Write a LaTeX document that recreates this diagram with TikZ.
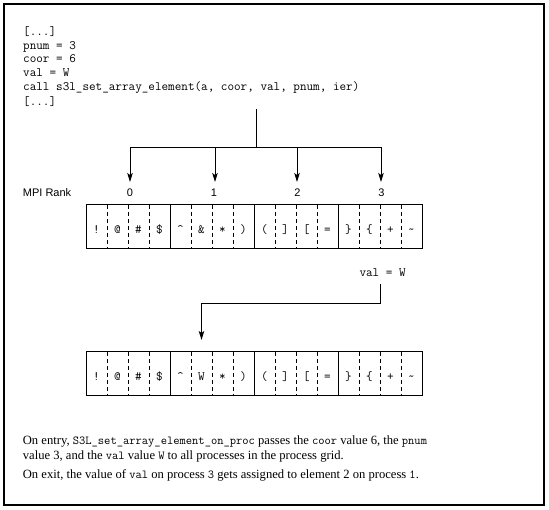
\documentclass[tikz,border=0pt]{standalone}
\usepackage{fontspec}
\setmainfont{Liberation Serif}
\setsansfont{Liberation Sans}
\usetikzlibrary{arrows.meta}
\newcommand\bodytt[1]{{\fontsize{12.2}{13}\selectfont\ttfamily #1}}
\begin{document}
\begin{tikzpicture}[x=1pt,y=-1pt,
  frame/.style={line width=1.2pt},
  code/.style={anchor=base west, inner sep=0pt, font=\fontsize{12.8}{14}\selectfont\ttfamily},
  body/.style={anchor=base west, inner sep=0pt, font=\fontsize{12.6}{13}\selectfont\rmfamily},
  rank/.style={anchor=base, inner sep=0pt, font=\fontsize{11}{13}\selectfont\sffamily},
  groupbox/.style={draw, line width=1pt, inner sep=0pt, outer sep=0pt, minimum width=84pt, minimum height=44pt},
  sep/.style={line width=0.8pt, dash pattern=on 4pt off 3pt},
  cell/.style={anchor=base, inner sep=0pt, font=\fontsize{12.8}{14}\selectfont\ttfamily},
  wire/.style={line width=1pt},
  arr/.style={line width=1pt, -{Stealth[length=9pt,width=5.5pt,inset=2pt]}},
]
\useasboundingbox (0,0) rectangle (549,510);
\draw[frame] (4,4) rectangle (544,505);

% code block
\node[code] (l1) at (23,36) {[...]};
\node[code] (l2) at (23,49.5) {pnum = 3};
\node[code] (l3) at (23,63) {coor = 6};
\node[code] (l4) at (23,77) {val = W};
\node[code] (l5) at (23,91) {call s3l\_set\_array\_element(a, coor, val, pnum, ier)};
\node[code] (l6) at (23,105.5) {[...]};

% broadcast connector
\coordinate (src) at (256,109);
\coordinate (bar) at (256,147.3);
\coordinate (b0) at (130,147.3);
\coordinate (b1) at (215,147.3);
\coordinate (b2) at (297,147.3);
\coordinate (b3) at (381,147.3);
\coordinate (t0) at (130,182);
\coordinate (t1) at (215,182);
\coordinate (t2) at (297,182);
\coordinate (t3) at (381,182);
\draw[wire] (src) -- (bar);
\draw[wire] (b0) -- (b3);
\draw[arr] (b0) -- (t0);
\draw[arr] (b1) -- (t1);
\draw[arr] (b2) -- (t2);
\draw[arr] (b3) -- (t3);

% rank labels
\node[anchor=base west, inner sep=0pt, font=\fontsize{11}{13}\selectfont\sffamily] (mpi) at (22.7,197) {MPI Rank};
\node[rank] (r0) at (130,197) {0};
\node[rank] (r1) at (214,197) {1};
\node[rank] (r2) at (297.5,197) {2};
\node[rank] (r3) at (381.5,197) {3};

% first array
\foreach \g in {0,1,2,3} {
  \node[groupbox] (g\g) at (128+84*\g,227) {};
}
\foreach \i in {1,2,3,5,6,7,9,10,11,13,14,15} {
  \draw[sep] (86+21*\i,205) -- (86+21*\i,249);
}
\foreach \ch [count=\i from 0] in {{!},{@},{\#},{\$},{\textasciicircum},{\&},{*},{)},{(},{]},{[},{=},{\}},{\{},{+},{\textasciitilde}} {
  \node[cell] (a\i) at (96.5+21*\i,234) {\ch};
}

% val = W connector
\node[code] (val) at (359.3,277) {val = W};
\coordinate (v1) at (380,284);
\coordinate (v2) at (380,303.3);
\coordinate (v3) at (201.5,303.3);
\coordinate (v4) at (201.5,340);
\draw[arr] (v1) -- (v2) -- (v3) -- (v4);

% second array
\foreach \g in {0,1,2,3} {
  \node[groupbox] (h\g) at (128+84*\g,374) {};
}
\foreach \i in {1,2,3,5,6,7,9,10,11,13,14,15} {
  \draw[sep] (86+21*\i,352) -- (86+21*\i,396);
}
\foreach \ch [count=\i from 0] in {{!},{@},{\#},{\$},{\textasciicircum},{W},{*},{)},{(},{]},{[},{=},{\}},{\{},{+},{\textasciitilde}} {
  \node[cell] (c\i) at (96.5+21*\i,381) {\ch};
}

% description
\node[body] (d1) at (22.7,445) {On entry, \bodytt{S3L\_set\_array\_element\_on\_proc} passes the \bodytt{coor} value 6, the \bodytt{pnum}};
\node[body] (d2) at (22.7,459.5) {value 3, and the \bodytt{val} value \bodytt{W} to all processes in the process grid.};
\node[body] (d3) at (22.7,478.5) {On exit, the value of \bodytt{val} on process \bodytt{3} gets assigned to element 2 on process \bodytt{1}.};
\end{tikzpicture}
\end{document}
